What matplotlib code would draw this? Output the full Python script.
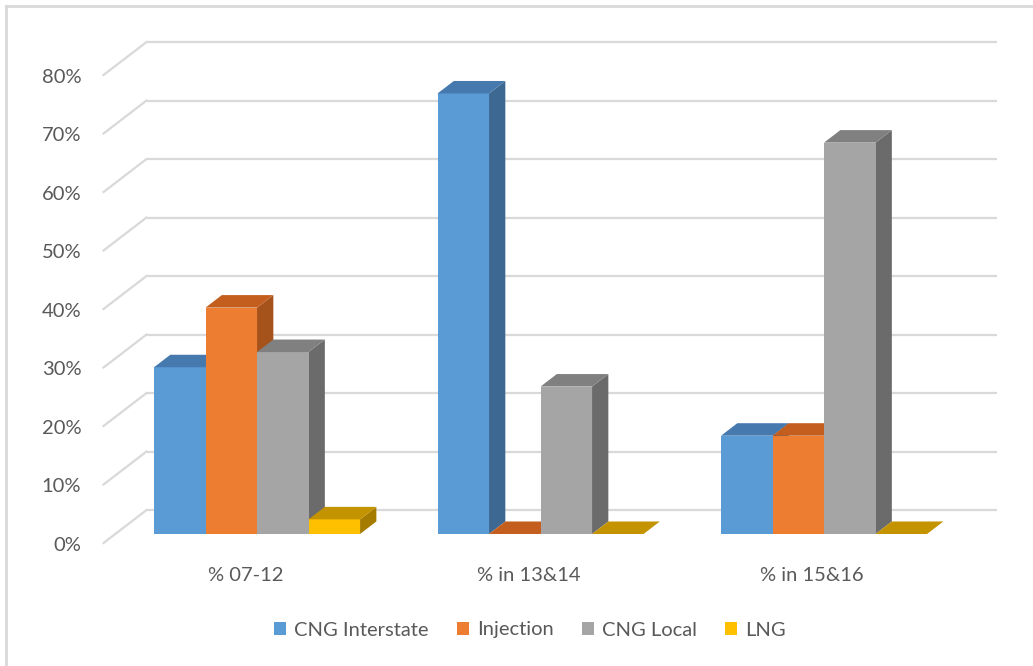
import matplotlib.pyplot as plt
from matplotlib.patches import Polygon, Patch
from matplotlib.lines import Line2D

categories = ['% 07-12', '% in 13&14', '% in 15&16']
series = ['CNG Interstate', 'Injection', 'CNG Local', 'LNG']
cng_interstate = [28.5, 75.3, 16.8]
injection = [38.7, 0.0, 16.8]
cng_local = [31.1, 25.2, 66.9]
lng = [2.5, 0.0, 0.0]
values = [cng_interstate, injection, cng_local, lng]
y_ticks = [0, 10, 20, 30, 40, 50, 60, 70, 80]

front_colors = ['#5B9BD5', '#ED7D31', '#A5A5A5', '#FFC000']
top_colors = ['#4679AE', '#C45E1F', '#808080', '#C49300']
side_colors = ['#3D6891', '#A5521B', '#6B6B6B', '#A67C00']

plt.rcParams['font.family'] = ['Lato', 'DejaVu Sans']
TEXT = '#595959'
GRID = '#D9D9D9'
FS = 14.5

W, H = 1033, 666
fig = plt.figure(figsize=(W / 100, H / 100), dpi=100)
ax = fig.add_axes([0, 0, 1, 1])
ax.set_axis_off()

# x: one unit per category, y: percent; oblique depth shift for the 3D look
px_per_cat, x_origin = 283.5, 288.3
px_per_pct, y_origin = 5.85, 510.0
ax.set_xlim(-x_origin / px_per_cat, (W - x_origin) / px_per_cat)
ax.set_ylim((y_origin - H) / px_per_pct, y_origin / px_per_pct)

DX = -43 / px_per_cat      # full floor depth, in category units
DY = -33 / px_per_pct      # full floor depth, in percent units
bar_w = 0.1817
d_front, d_back = 0.727, 0.348


def proj(x, v, d):
    return (x + d * DX, v + d * DY)


# back wall gridlines and left wall diagonals
for v in y_ticks:
    ax.plot([-0.5, 2.5], [v, v], color=GRID, lw=1.6, zorder=1,
            solid_capstyle='butt')
    x0, y0 = proj(-0.5, v, 0)
    x1, y1 = proj(-0.5, v, 1)
    ax.plot([x0, x1], [y0, y1], color=GRID, lw=1.6, zorder=1)
    ax.annotate(f'{v}%', (x1, y1), xytext=(-16, -1.5), textcoords='offset points',
                ha='right', va='center', fontsize=FS, color=TEXT)

# bars, drawn left to right so later fronts hide earlier sides
z = 2
for i, cat in enumerate(categories):
    for j in range(len(series)):
        h = values[j][i]
        xl = i - 2 * bar_w + j * bar_w
        xr = xl + bar_w
        front = [proj(xl, 0, d_front), proj(xr, 0, d_front),
                 proj(xr, h, d_front), proj(xl, h, d_front)]
        top = [proj(xl, h, d_front), proj(xr, h, d_front),
               proj(xr, h, d_back), proj(xl, h, d_back)]
        side = [proj(xr, 0, d_front), proj(xr, 0, d_back),
                proj(xr, h, d_back), proj(xr, h, d_front)]
        if h > 0:
            ax.add_patch(Polygon(side, closed=True, fc=side_colors[j], ec='none', zorder=z))
            ax.add_patch(Polygon(front, closed=True, fc=front_colors[j], ec='none', zorder=z + 1))
        ax.add_patch(Polygon(top, closed=True, fc=top_colors[j], ec='none', zorder=z + 1))
        z += 2
    lx, ly = proj(i, 0, 1)
    ax.annotate(cat, (lx, ly), xytext=(0, -23.5), textcoords='offset points',
                ha='center', va='center', fontsize=FS, color=TEXT)

handles = [Patch(facecolor=c, edgecolor='none') for c in front_colors]
fig.legend(handles, series, loc='center', bbox_to_anchor=(0.513, 1 - 630 / H),
           ncol=4, frameon=False, fontsize=FS, labelcolor=TEXT,
           handlelength=0.6, handleheight=0.6, handletextpad=0.4,
           columnspacing=1.4)

# chart frame
fig.add_artist(Line2D([6 / W, 6 / W], [0, 1 - 6 / H], color=GRID, lw=2))
fig.add_artist(Line2D([6 / W, 1], [1 - 6 / H, 1 - 6 / H], color=GRID, lw=2))

fig.savefig('out.png', dpi=100)
